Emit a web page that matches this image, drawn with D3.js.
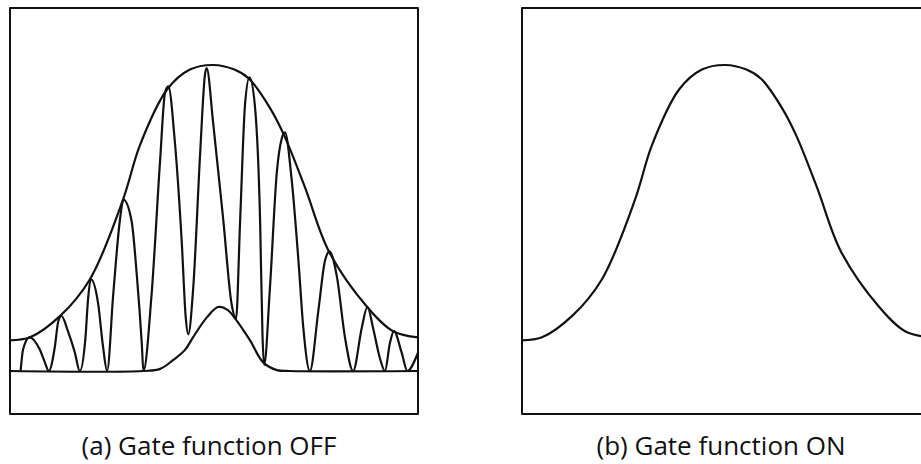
<!DOCTYPE html>
<meta charset='utf-8'>
<title>Gate function OFF / ON</title>
<style>
body {
  margin: 0;
  background-color: #fff;
}
svg text {
  font-family: "Open Sans", "Noto Sans", sans-serif;
}
</style>
<svg width="921" height="464" stroke-linejoin="round" stroke-linecap="round"></svg>
<script src="https://d3js.org/d3.v7.min.js"></script>
<script>

// Panel captions
var captions = ["(a) Gate function OFF", "(b) Gate function ON"];

// Envelope of the interference signal (position 0..100, relative intensity)
var envelope = [
  [0, 0.10], [4.9, 0.11], [12.3, 0.18], [19.6, 0.30], [27.7, 0.56],
  [31.9, 0.74], [38.5, 0.92], [44.1, 0.985], [49.8, 1.0], [55.0, 0.985],
  [58.6, 0.955], [63.7, 0.86], [67.2, 0.77], [72.3, 0.60], [78.2, 0.39],
  [87.5, 0.21], [93.9, 0.13], [100, 0.11]
];

// Signal left over when the gate blocks the fringes (flat with a small bump)
var gated = [
  [0, 0], [32.6, 0], [36.8, 0.007], [40.0, 0.036], [42.9, 0.069],
  [44.9, 0.111], [48.3, 0.176], [51.0, 0.209], [53.4, 0.199], [55.1, 0.173],
  [58.8, 0.101], [62.0, 0.029], [65.4, 0.003], [68.6, 0], [100, 0]
];

// Raw interference fringes
var fringes = [
  [2.6, 0.0], [3.2, 0.07], [4.8, 0.11], [7.3, 0.07], [8.5, 0.03], [9.5, 0.0],
  [11.0, 0.08], [11.8, 0.16], [12.6, 0.18], [14.2, 0.13], [15.9, 0.06], [17.1, 0.0],
  [18.5, 0.11], [19.1, 0.23], [19.8, 0.30], [21.6, 0.22], [22.8, 0.08], [23.8, 0.0],
  [25.3, 0.25], [27.0, 0.50], [27.8, 0.56], [29.8, 0.49], [31.1, 0.31], [32.3, 0.09], [32.7, 0.0],
  [34.7, 0.25], [36.8, 0.69], [38.0, 0.91], [38.8, 0.93], [40.4, 0.75], [42.1, 0.42], [43.1, 0.17], [43.7, 0.12],
  [44.9, 0.27], [46.6, 0.71], [47.8, 0.97], [48.2, 0.99], [49.8, 0.81], [52.3, 0.49], [54.3, 0.22], [55.4, 0.17],
  [56.4, 0.49], [57.6, 0.87], [58.7, 0.96], [60.0, 0.87], [61.3, 0.49], [61.9, 0.11], [62.3, 0.02],
  [63.7, 0.27], [65.4, 0.65], [66.6, 0.76], [67.4, 0.78], [69.0, 0.63], [70.7, 0.36], [71.9, 0.14], [73.5, 0.0],
  [75.6, 0.20], [77.2, 0.36], [78.3, 0.39], [80.1, 0.31], [82.1, 0.11], [84.1, 0.0],
  [86.2, 0.14], [87.6, 0.21], [89.0, 0.14], [90.7, 0.04], [91.9, 0.0],
  [93.1, 0.09], [94.1, 0.13], [96.0, 0.06], [97.4, 0.0], [99.7, 0.05], [100, 0.06]
];

var svg = d3.select("svg");

var panelW = 408,
    panelH = 406;

var x = d3.scaleLinear()
    .domain([0, 100])
    .range([0, panelW]);

var y = d3.scaleLinear()
    .domain([0, 1])
    .range([363, 57]);

// smooth curves for the envelopes, monotone for the fringes (no overshoot)
var smooth = d3.line()
    .x(function(d) { return x(d[0]); })
    .y(function(d) { return y(d[1]); })
    .curve(d3.curveCatmullRom.alpha(0.5));

var monotone = d3.line()
    .x(function(d) { return x(d[0]); })
    .y(function(d) { return y(d[1]); })
    .curve(d3.curveMonotoneX);

// left: gate OFF, right: gate ON
var panels = [
  { left: 10, series: [[envelope, smooth], [gated, smooth], [fringes, monotone]] },
  { left: 522, series: [[envelope, smooth]] }
];

panels.forEach(function(p, i) {
  var g = svg.append("g")
      .attr("transform", "translate(" + p.left + ",8)");

  g.append("rect")
      .attr("width", panelW)
      .attr("height", panelH)
      .attr("fill", "none")
      .attr("stroke", "#111")
      .attr("stroke-width", 2);

  g.selectAll("path.curve")
      .data(p.series)
    .enter().append("path")
      .attr("class", "curve")
      .attr("d", function(d) { return d[1](d[0]); })
      .attr("fill", "none")
      .attr("stroke", "#111")
      .attr("stroke-width", 2.2);

  svg.append("text")
      .attr("x", p.left + panelW / 2 - 5)
      .attr("y", 455)
      .attr("text-anchor", "middle")
      .attr("font-size", 26)
      .attr("fill", "#111")
      .text(captions[i]);
});

</script>
